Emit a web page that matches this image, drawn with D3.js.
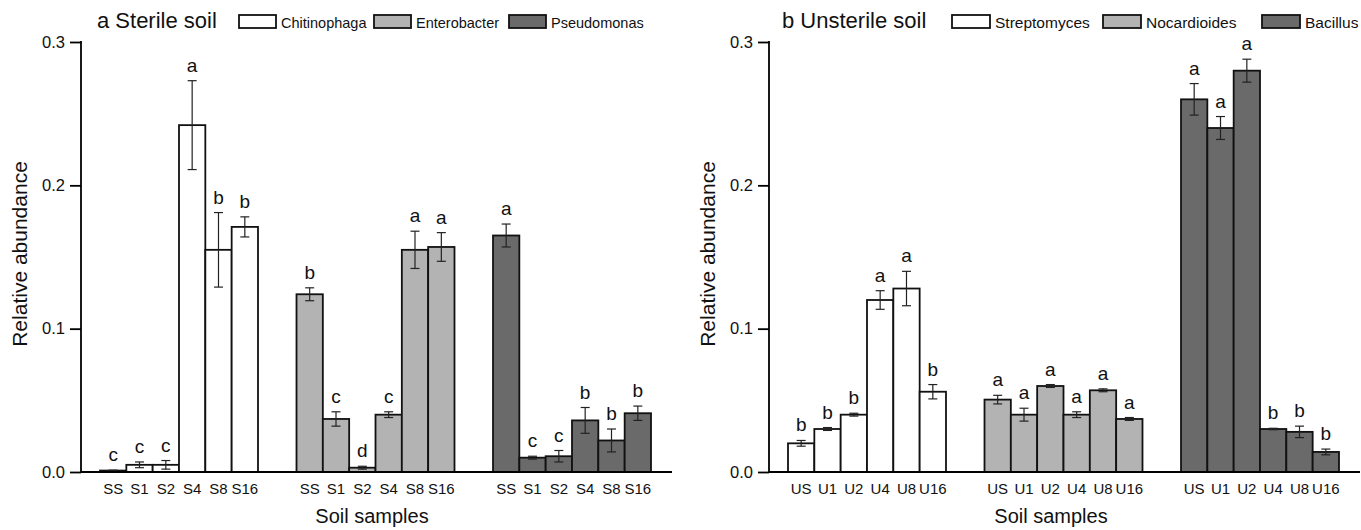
<!DOCTYPE html>
<meta charset="utf-8">
<style>
  body { margin: 0; background: #fff; }
  svg { display: block; font-family: "Liberation Sans", Arial, sans-serif; }
</style>
<svg width="1361" height="530"></svg>
<script src="https://cdn.jsdelivr.net/npm/d3@7"></script>
<script>
// sample names
var sterileSamples = ["SS", "S1", "S2", "S4", "S8", "S16"];
var unsterileSamples = ["US", "U1", "U2", "U4", "U8", "U16"];

// sterile soil
var sterileGenera = ["Chitinophaga", "Enterobacter", "Pseudomonas"];
var chitinophaga = [0.001, 0.005, 0.005, 0.242, 0.155, 0.171];
var chitinophagaErr = [0.0003, 0.002, 0.003, 0.031, 0.026, 0.007];
var chitinophagaSig = ["c", "c", "c", "a", "b", "b"];
var enterobacter = [0.124, 0.037, 0.003, 0.040, 0.155, 0.157];
var enterobacterErr = [0.0045, 0.005, 0.001, 0.002, 0.013, 0.010];
var enterobacterSig = ["b", "c", "d", "c", "a", "a"];
var pseudomonas = [0.165, 0.010, 0.011, 0.036, 0.022, 0.041];
var pseudomonasErr = [0.008, 0.001, 0.004, 0.009, 0.008, 0.005];
var pseudomonasSig = ["a", "c", "c", "b", "b", "b"];

// unsterile soil
var unsterileGenera = ["Streptomyces", "Nocardioides", "Bacillus"];
var streptomyces = [0.020, 0.030, 0.040, 0.120, 0.128, 0.056];
var streptomycesErr = [0.002, 0.001, 0.001, 0.0065, 0.012, 0.005];
var streptomycesSig = ["b", "b", "b", "a", "a", "b"];
var nocardioides = [0.0505, 0.040, 0.060, 0.040, 0.057, 0.037];
var nocardioidesErr = [0.003, 0.0045, 0.001, 0.002, 0.001, 0.001];
var nocardioidesSig = ["a", "a", "a", "a", "a", "a"];
var bacillus = [0.260, 0.240, 0.280, 0.030, 0.028, 0.014];
var bacillusErr = [0.011, 0.008, 0.008, 0.0005, 0.004, 0.002];
var bacillusSig = ["a", "a", "a", "b", "b", "b"];

var yTicks = [0, 0.1, 0.2, 0.3];
var fills = ["#ffffff", "#b3b3b3", "#6a6a6a"];

var svg = d3.select("svg");

var y = d3.scaleLinear().domain([0, 0.3]).range([472, 42]);

function table(samples, values, errs, sigs) {
  return samples.map(function(s, i) {
    return {sample: s, value: values[i], err: errs[i], sig: sigs[i]};
  });
}

var panels = [
  {
    title: "a Sterile soil",
    genera: sterileGenera,
    samples: sterileSamples,
    series: [
      table(sterileSamples, chitinophaga, chitinophagaErr, chitinophagaSig),
      table(sterileSamples, enterobacter, enterobacterErr, enterobacterSig),
      table(sterileSamples, pseudomonas, pseudomonasErr, pseudomonasSig)
    ],
    axisX: 81, barStart: 100, barEnd: 651, axisEnd: 672, xTitle: 372,
    titleX: 97, legendX: [239, 374, 509], boxW: 37, legendSize: 14.5
  },
  {
    title: "b Unsterile soil",
    genera: unsterileGenera,
    samples: unsterileSamples,
    series: [
      table(unsterileSamples, streptomyces, streptomycesErr, streptomycesSig),
      table(unsterileSamples, nocardioides, nocardioidesErr, nocardioidesSig),
      table(unsterileSamples, bacillus, bacillusErr, bacillusSig)
    ],
    axisX: 769, barStart: 788, barEnd: 1339, axisEnd: 1360, xTitle: 1051,
    titleX: 782, legendX: [952, 1103, 1262], boxW: 38, legendSize: 15.5
  }
];

panels.forEach(function(p) {
  var g = svg.append("g");

  var x0 = d3.scaleBand().domain(p.genera).range([p.barStart, p.barEnd])
    .paddingInner(0.196).paddingOuter(0);
  var x1 = d3.scaleBand().domain(p.samples).range([0, x0.bandwidth()]).padding(0);

  // y axis
  var yAxis = d3.axisLeft(y).tickValues(yTicks).tickFormat(d3.format(".1f"))
    .tickSize(11).tickSizeOuter(0);
  var ya = g.append("g").attr("transform", "translate(" + p.axisX + ",0)").call(yAxis);
  ya.select(".domain").attr("stroke", "#000").attr("stroke-width", 1.8)
    .attr("d", "M0," + (y(0.3) - 0.9) + "V" + y(0));
  ya.selectAll(".tick line").attr("stroke", "#000").attr("stroke-width", 1.8);
  ya.selectAll(".tick text").attr("x", -16).attr("font-size", 16.5)
    .attr("font-family", "Liberation Sans, Arial, sans-serif").attr("fill", "#111");

  // bars
  p.genera.forEach(function(gen, gi) {
    var gg = g.append("g").attr("transform", "translate(" + x0(gen) + ",0)");
    var data = p.series[gi];
    gg.selectAll("rect").data(data).join("rect")
      .attr("x", function(d) { return x1(d.sample); })
      .attr("y", function(d) { return y(d.value); })
      .attr("width", x1.bandwidth())
      .attr("height", function(d) { return y(0) - y(d.value); })
      .attr("fill", fills[gi])
      .attr("stroke", "#111")
      .attr("stroke-width", 1.8);

    // error bars
    var eb = gg.selectAll("g.err").data(data).join("g").attr("class", "err")
      .attr("transform", function(d) { return "translate(" + (x1(d.sample) + x1.bandwidth() / 2) + ",0)"; });
    eb.append("line")
      .attr("y1", function(d) { return y(d.value + d.err); })
      .attr("y2", function(d) { return y(Math.max(0, d.value - d.err)); });
    eb.append("line").attr("x1", -4.5).attr("x2", 4.5)
      .attr("y1", function(d) { return y(d.value + d.err); })
      .attr("y2", function(d) { return y(d.value + d.err); });
    eb.append("line").attr("x1", -4.5).attr("x2", 4.5)
      .attr("y1", function(d) { return y(Math.max(0, d.value - d.err)); })
      .attr("y2", function(d) { return y(Math.max(0, d.value - d.err)); });
    eb.selectAll("line").attr("stroke", "#222").attr("stroke-width", 1.2);

    // significance letters
    gg.selectAll("text.sig").data(data).join("text").attr("class", "sig")
      .attr("x", function(d) { return x1(d.sample) + x1.bandwidth() / 2; })
      .attr("y", function(d) { return y(d.value + d.err) - 9; })
      .attr("text-anchor", "middle")
      .attr("font-size", 19)
      .attr("fill", "#111")
      .text(function(d) { return d.sig; });

    // sample labels
    gg.selectAll("text.lab").data(data).join("text").attr("class", "lab")
      .attr("x", function(d) { return x1(d.sample) + x1.bandwidth() / 2; })
      .attr("y", 494)
      .attr("text-anchor", "middle")
      .attr("font-size", 15)
      .attr("fill", "#111")
      .text(function(d) { return d.sample; });
  });

  // x baseline
  g.append("line").attr("x1", p.axisX).attr("x2", p.axisEnd)
    .attr("y1", y(0)).attr("y2", y(0))
    .attr("stroke", "#000").attr("stroke-width", 1.8);

  // axis titles
  g.append("text").attr("x", p.xTitle).attr("y", 523)
    .attr("text-anchor", "middle").attr("font-size", 20).attr("fill", "#111")
    .text("Soil samples");
  g.append("text")
    .attr("transform", "translate(" + (p.axisX - 54) + "," + ((y(0) + y(0.3)) / 2 - 3) + ") rotate(-90)")
    .attr("text-anchor", "middle").attr("font-size", 21).attr("fill", "#111")
    .text("Relative abundance");

  // panel title and legend
  g.append("text").attr("x", p.titleX).attr("y", 28).attr("font-size", 22)
    .attr("fill", "#111").text(p.title);
  p.genera.forEach(function(gen, gi) {
    g.append("rect").attr("x", p.legendX[gi]).attr("y", 15)
      .attr("width", p.boxW).attr("height", 13)
      .attr("fill", fills[gi]).attr("stroke", "#111").attr("stroke-width", 1.8);
    g.append("text").attr("x", p.legendX[gi] + p.boxW + 5).attr("y", 27.5)
      .attr("font-size", p.legendSize).attr("fill", "#111").text(gen);
  });
});
</script>
